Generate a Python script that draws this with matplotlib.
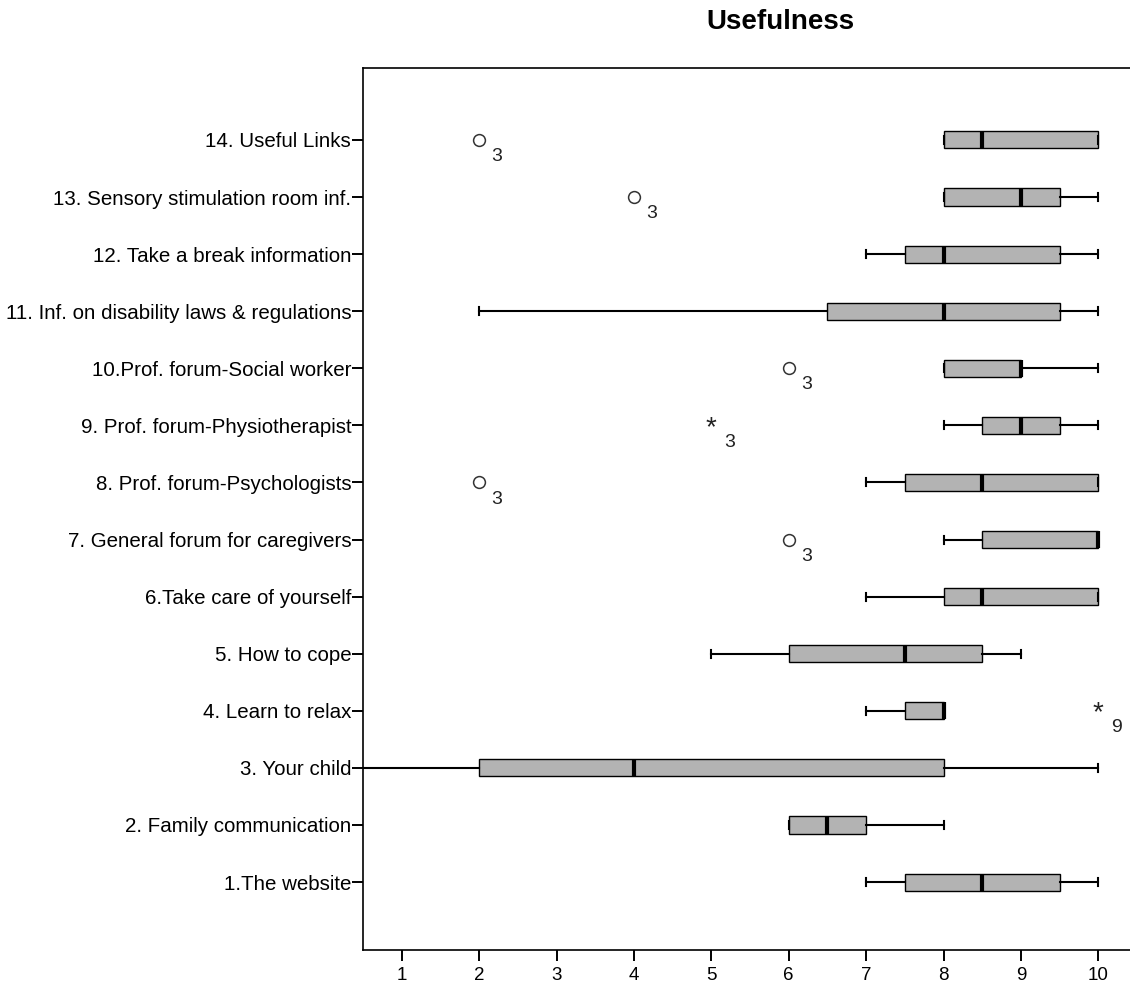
import matplotlib.pyplot as plt

plt.rcParams['font.family'] = ['Liberation Sans', 'DejaVu Sans']

items = ['1.The website', '2. Family communication', '3. Your child', '4. Learn to relax',
         '5. How to cope', '6.Take care of yourself', '7. General forum for caregivers',
         '8. Prof. forum-Psychologists', '9. Prof. forum-Physiotherapist',
         '10.Prof. forum-Social worker', '11. Inf. on disability laws & regulations',
         '12. Take a break information', '13. Sensory stimulation room inf.', '14. Useful Links']
whislo = [7, 6, 0, 7, 5, 7, 8, 7, 8, 8, 2, 7, 8, 8]
q1 = [7.5, 6, 2, 7.5, 6, 8, 8.5, 7.5, 8.5, 8, 6.5, 7.5, 8, 8]
med = [8.5, 6.5, 4, 8, 7.5, 8.5, 10, 8.5, 9, 9, 8, 8, 9, 8.5]
q3 = [9.5, 7, 8, 8, 8.5, 10, 10, 10, 9.5, 9, 9.5, 9.5, 9.5, 10]
whishi = [10, 8, 10, 8, 9, 10, 10, 10, 10, 10, 10, 10, 10, 10]

# outliers (circles) and extremes (stars): (item number, value, case label)
outliers = [(14, 2, '3'), (13, 4, '3'), (10, 6, '3'), (8, 2, '3'), (7, 6, '3')]
extremes = [(9, 5, '3'), (4, 10, '9')]

stats = []
for i in range(len(items)):
    stats.append(dict(label=items[i], whislo=whislo[i], q1=q1[i], med=med[i],
                      q3=q3[i], whishi=whishi[i], fliers=[]))

fig = plt.figure(figsize=(11.3, 9.86), dpi=100)
ax = fig.add_axes([363 / 1130, 1 - 950 / 986, (1137 - 363) / 1130, (950 - 68) / 986])

pos = list(range(1, len(items) + 1))
ax.bxp(stats, positions=pos, vert=False, widths=0.3, capwidths=0.14,
       patch_artist=True, showfliers=False,
       boxprops=dict(facecolor='#b3b3b3', edgecolor='black', linewidth=1.0),
       medianprops=dict(color='black', linewidth=3),
       whiskerprops=dict(color='black', linewidth=1.5),
       capprops=dict(color='black', linewidth=1.5))

for item, val, lab in outliers:
    ax.plot(val, item, marker='o', markersize=8.5, markerfacecolor='white',
            markeredgecolor='#333333', markeredgewidth=1.1, linestyle='none', clip_on=False)
    ax.annotate(lab, (val, item), xytext=(9, -12), textcoords='offset points',
                fontsize=14, ha='left', va='center', color='#222222')

for item, val, lab in extremes:
    ax.annotate('*', (val, item), ha='center', va='center', fontsize=20,
                xytext=(0, -2), textcoords='offset points', color='#222222')
    ax.annotate(lab, (val, item), xytext=(9, -12), textcoords='offset points',
                fontsize=14, ha='left', va='center', color='#222222')

ax.set_xlim(0.5, 10.5)
ax.set_ylim(-0.19, 15.26)
ax.set_xticks(range(1, 11))
ax.set_yticks(pos)
ax.set_yticklabels(items, fontsize=14.8)
ax.tick_params(axis='both', direction='out', length=8, width=1.4, colors='black')
ax.tick_params(axis='x', pad=4, labelsize=13.5)
ax.tick_params(axis='y', pad=0.5)
ax.spines['right'].set_visible(False)
for s in ['left', 'top', 'bottom']:
    ax.spines[s].set_linewidth(1.2)

fig.text(780 / 1130, 1 - 22 / 986, 'Usefulness', ha='center', va='center',
         fontsize=20, fontweight='bold')

fig.savefig('out.png', dpi=100)
